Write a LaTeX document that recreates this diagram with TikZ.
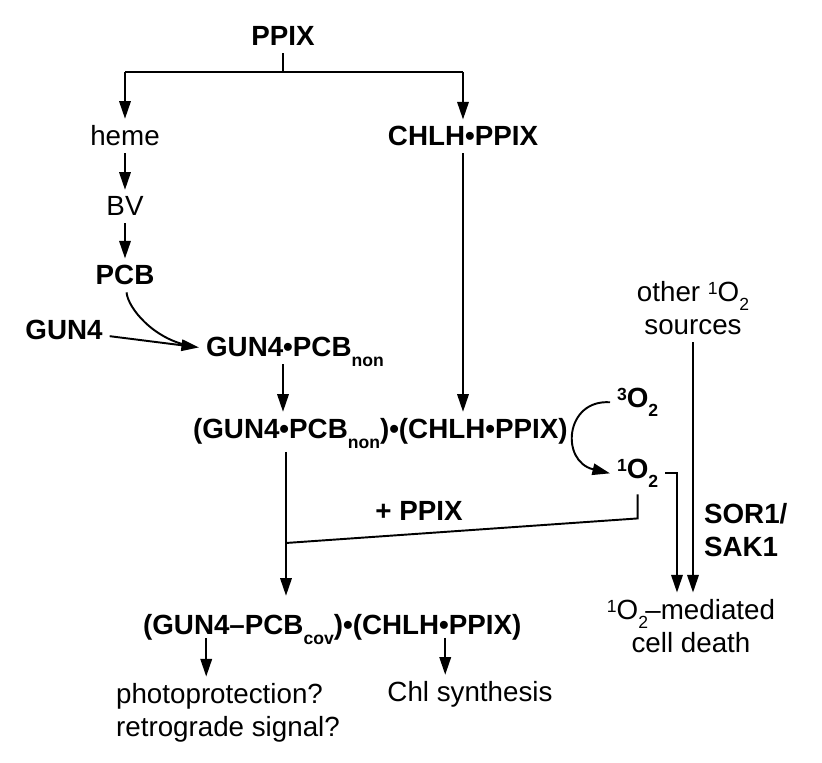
\documentclass[tikz,border=0pt]{standalone}
\usepackage{fontspec}
\setmainfont{Liberation Sans}
\usetikzlibrary{positioning, arrows.meta, calc}

\newcommand{\lowtxt}[1]{\raisebox{-0.33em}[0pt][0pt]{\fontsize{10}{10}\selectfont #1}}
\newcommand{\hightxt}[1]{\raisebox{0.27em}{\fontsize{10}{10}\selectfont #1}}
\newcommand{\subtxt}[1]{\raisebox{-0.3em}{\fontsize{10}{10}\selectfont #1}}

\begin{document}
\begin{tikzpicture}[x=0.02cm, y=0.02cm, line width=1.1pt,
    every node/.style={font=\fontsize{15.8}{18.9}\selectfont, inner sep=3.5pt, anchor=base},
    bold/.style={font=\fontsize{15.8}{18.9}\selectfont\bfseries},
    arr/.style={-{Triangle[length=10pt, width=6.5pt]}}]

			\useasboundingbox (0,0) rectangle (822,763);
			% Nodes left branch
			\node[bold] (ppix) at (283,717) {PPIX};
			\node (heme) at (125,617) {heme};
			\node (bv) at (125,547) {BV};
			\node[bold] (pcb) at (125,478) {PCB};
			\node[bold] (gun4) at (64,423) {GUN4};
			\node[bold, anchor=base west] (gpcb) at (199,406) {GUN4•PCB\lowtxt{non}};
			% Nodes right branch
			\node[bold] (chlh) at (463,617) {CHLH•PPIX};
			\node[bold, anchor=base west] (cplx) at (186,324) {(GUN4•PCB\lowtxt{non})•(CHLH•PPIX)};
			% Oxygen
			\node[bold, anchor=base west] (o3) at (610,355) {\hightxt{3}O\subtxt{2}};
			\node[bold, anchor=base west] (o1) at (610,284) {\hightxt{1}O\subtxt{2}};
			\node[align=center] (other) at (693,428) {other \hightxt{1}O\subtxt{2}\\sources};
			\node[bold, align=left, anchor=base west] (sorsak) at (697,206) {SOR1/\\SAK1};
			\node[align=center] (death) at (691,110) {\hightxt{1}O\subtxt{2}\kern-1.5pt–mediated\\cell death};
			% Bottom row
			\node[bold] (plus) at (419,242) {+ PPIX};
			\node[bold, anchor=base west] (cov) at (136,128) {(GUN4–PCB\lowtxt{cov})•(CHLH•PPIX)};
			\node[align=left, anchor=base west] (photo) at (109,26) {photoprotection?\\retrograde signal?};
			\node (chl) at (470,61) {Chl synthesis};
			% Arrows top
			\coordinate (split) at (283,691);
			\draw (ppix) -- (split);
			\draw (split -| heme) -- (split -| chlh);
			\draw[arr] (split -| heme) -- (heme);
			\draw[arr] (split -| chlh) -- (chlh);
			\draw[arr] (heme) -- (bv);
			\draw[arr] (bv) -- (pcb);
			\draw[shorten >=5pt] (pcb) .. controls +(3,-33) and +(-45,8) .. (gpcb.west);
			\draw[arr] (gun4) -- (gpcb.west);
			\draw[arr] (ppix |- gpcb.south) -- (ppix |- cplx.north);
			\draw[arr] (chlh) -- (chlh |- cplx.north);
			% Arrows oxygen
			\draw[arr] (o3.west) .. controls +(-45,3) and +(-50,12) .. (o1.west);
			\draw[arr] (o1.east) -| ($(death.north)+(-14,0)$);
			\draw[arr] (other) -- (other |- death.north);
			\coordinate (join) at (286,220);
			\draw (o1.south) -- ++(0,-24) -- (join);
			% Arrows bottom
			\draw[arr] (join |- cplx.south) -- ($(join |- cov.north)+(0,12)$);
			\coordinate (covl) at ($(cov.base)+(-126,-3)$);
			\coordinate (covr) at ($(cov.base)+(113,-3)$);
			\draw[arr] (covl) -- (covl |- photo.north);
			\draw[arr] (covr) -- (covr |- chl.north);
		\end{tikzpicture}
\end{document}
